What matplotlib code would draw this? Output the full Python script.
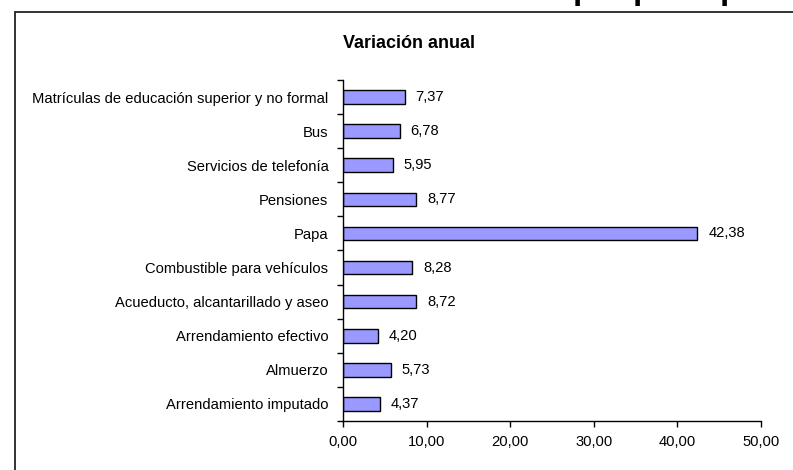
import matplotlib
matplotlib.use("Agg")
import matplotlib.pyplot as plt
from matplotlib.patches import Rectangle
from matplotlib.ticker import FixedLocator, FuncFormatter

plt.rcParams['font.family'] = ['Liberation Sans', 'DejaVu Sans']

categories = [
    "Matrículas de educación superior y no formal",
    "Bus",
    "Servicios de telefonía",
    "Pensiones",
    "Papa",
    "Combustible para vehículos",
    "Acueducto, alcantarillado y aseo",
    "Arrendamiento efectivo",
    "Almuerzo",
    "Arrendamiento imputado",
]
values = [7.37, 6.78, 5.95, 8.77, 42.38, 8.28, 8.72, 4.20, 5.73, 4.37]
xticks = [0, 10, 20, 30, 40, 50]
title = "Variación anual"

FS = 10.6
W, H = 793, 470
fig = plt.figure(figsize=(W / 100, H / 100), dpi=100)
ax = fig.add_axes([343 / W, 1 - 421 / H, (761 - 343) / W, (421 - 80) / H])

n = len(categories)
ypos = list(range(n))[::-1]
ax.barh(ypos, values, height=0.4, color="#9999FF", edgecolor="black", linewidth=1.0)
ax.set_ylim(-0.5, n - 0.5)
ax.set_xlim(0, 50)

ax.set_yticks(ypos)
ax.set_yticklabels(categories, fontsize=FS)
ax.tick_params(axis='y', which='major', length=0, pad=10.5)
ax.yaxis.set_minor_locator(FixedLocator([i - 0.5 for i in range(n + 1)]))
ax.tick_params(axis='y', which='minor', length=4, width=1, direction='out')

ax.set_xticks(xticks)
ax.xaxis.set_major_formatter(FuncFormatter(lambda v, p: f"{v:.2f}".replace('.', ',')))
ax.tick_params(axis='x', which='major', length=4, width=1, direction='out', labelsize=FS, pad=6)

for s in ['top', 'right']:
    ax.spines[s].set_visible(False)
for s in ['left', 'bottom']:
    ax.spines[s].set_linewidth(1.0)

for y, v in zip(ypos, values):
    ax.annotate(f"{v:.2f}".replace('.', ','), (v, y), xytext=(11, 0), textcoords='offset pixels',
                va='center', ha='left', fontsize=FS)

fig.text(409 / W, 1 - 44 / H, title, ha='center', va='center', fontsize=13, fontweight='bold')

# chart border (extends past figure edges)
fig.patches.append(Rectangle((15 / W, -0.2), 1.2, 1 - 12 / H + 0.2, transform=fig.transFigure,
                             fill=False, edgecolor='#222222', linewidth=1.3, clip_on=False))

# cut-off heading descenders at the top
for xp in [583, 643, 730]:
    fig.text(xp / W, 1 + 1 / H, "p", ha='center', va='baseline', fontsize=24, fontweight='bold')

fig.savefig("out.png", dpi=100)
